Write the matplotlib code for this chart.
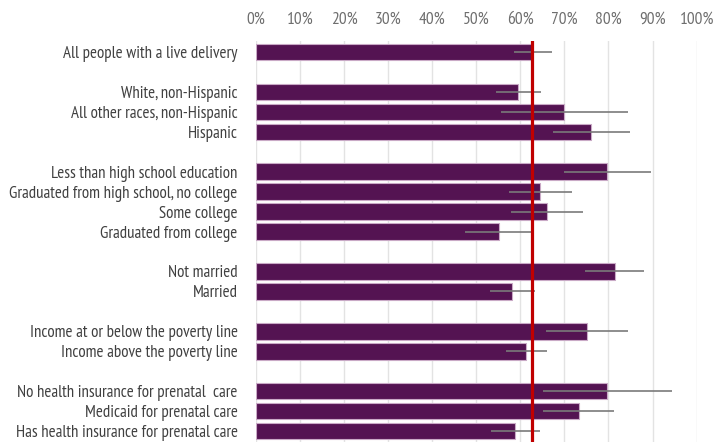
import matplotlib.pyplot as plt
import numpy as np
from matplotlib.ticker import PercentFormatter

# rows of the chart; None marks a blank spacer row
labels = [
    'All people with a live delivery', None,
    'White, non-Hispanic', 'All other races, non-Hispanic', 'Hispanic', None,
    'Less than high school education', 'Graduated from high school, no college',
    'Some college', 'Graduated from college', None,
    'Not married', 'Married', None,
    'Income at or below the poverty line', 'Income above the poverty line', None,
    'No health insurance for prenatal  care', 'Medicaid for prenatal care',
    'Has health insurance for prenatal care',
]
values = [62.6, 59.5, 70.0, 76.1, 79.7, 64.5, 66.1, 55.2,
          81.5, 58.2, 75.2, 61.4, 79.7, 73.2, 58.9]
ci_low = [58.6, 54.4, 55.6, 67.5, 69.9, 57.4, 57.9, 47.5,
          74.7, 53.1, 65.8, 56.8, 65.1, 65.1, 53.3]
ci_high = [67.3, 64.7, 84.5, 84.8, 89.6, 71.7, 74.3, 62.6,
           88.1, 63.3, 84.5, 66.1, 94.3, 81.3, 64.5]
overall = 62.7

plt.rcParams['font.family'] = ['PT Sans Narrow', 'DejaVu Sans']

pos = [i for i, l in enumerate(labels) if l is not None]
names = [l for l in labels if l is not None]
values = np.array(values)
err = [values - np.array(ci_low), np.array(ci_high) - values]

fig = plt.figure(figsize=(7.15, 4.42), dpi=100)
ax = fig.add_axes([0.3576, 0.0, 0.6168, 0.907])

ax.barh(pos, values, height=0.83, color='#541352', edgecolor='#c9a9c6',
        linewidth=0.8, zorder=2)
ax.errorbar(values, pos, xerr=err, fmt='none', ecolor='#7a7a7a',
            elinewidth=1.2, capsize=0, zorder=3)
ax.axvline(overall, color='#c00000', linewidth=2.3, zorder=4)

ax.set_xlim(0, 100)
ax.set_ylim(len(labels) - 0.45, -0.55)
ax.set_xticks(np.arange(0, 101, 10))
ax.xaxis.set_major_formatter(PercentFormatter(decimals=0))
ax.xaxis.tick_top()
ax.set_yticks(pos)
ax.set_yticklabels(names)
ax.tick_params(axis='x', length=0, pad=9.5, labelsize=12.5, labelcolor='#6e6e6e')
ax.tick_params(axis='y', length=0, pad=13, labelsize=12.2, labelcolor='#404040')
ax.grid(axis='x', color='#e3e3e3', linewidth=1, zorder=0)
for s in ax.spines.values():
    s.set_visible(False)

fig.savefig('out.png', dpi=100)
